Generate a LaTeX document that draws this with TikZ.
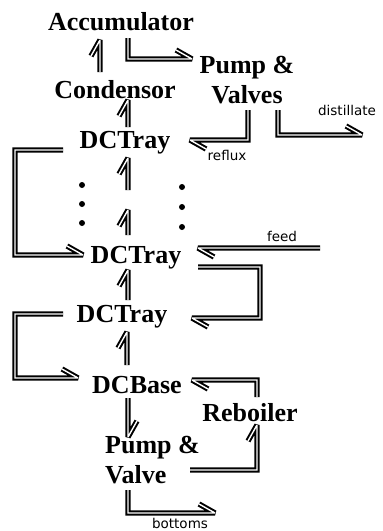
\documentclass[tikz,border=0pt]{standalone}
\usepackage{fontspec}
\setmainfont{Liberation Serif}
\newfontfamily\lblfont{DejaVu Sans}
\tikzset{
  blk/.style={font=\fontsize{26}{30}\selectfont\bfseries, inner sep=0pt},
  lbl/.style={font=\lblfont\fontsize{13.5}{15}\selectfont, inner sep=0pt},
  flow/.style={double, double distance=1.4pt, line width=2pt, line join=miter, miter limit=3},
  dot/.style={circle, fill=black, inner sep=0pt, minimum size=6pt}
}
\newcommand\tipU{-- ++(-9,16)}
\newcommand\tipD{-- ++(9,-16)}
\newcommand\tipR{-- ++(-16,-9)}
\newcommand\tipL{-- ++(16,9)}
\begin{document}
\begin{tikzpicture}[x=1pt, y=-1pt]
\useasboundingbox (0,0) rectangle (383,531);
% nodes
\node[blk] (acc) at (121,22) {Accumulator};
\node[blk] (cond) at (115,90) {Condensor};
\node[blk, align=center] (pv1) at (247,80) {Pump \&\\Valves};
\node[blk] (t1) at (125,143) {DCTray};
\node[blk] (t2) at (136,258) {DCTray};
\node[blk] (t3) at (122,317) {DCTray};
\node[blk] (base) at (137,385) {DCBase};
\node[blk] (reb) at (250,413) {Reboiler};
\node[blk, align=left, anchor=west] (pv2) at (105,460) {Pump \&\\Valve};
\node[lbl] (dist) at (347,110) {distillate};
\node[lbl] (refl) at (227,155) {reflux};
\node[lbl] (feed) at (282,236) {feed};
\node[lbl] (bot) at (180,523) {bottoms};
% dots
\foreach \y [count=\i] in {185,204,223} \node[dot] (dl\i) at (82,\y) {};
\foreach \y [count=\i] in {187,207,227} \node[dot] (dr\i) at (182,\y) {};
% connector end points
\coordinate (c1a) at (100,72);   \coordinate (c1b) at (100,40);
\coordinate (c2a) at (128,38);   \coordinate (c2b) at (192,59);
\coordinate (c3a) at (128,127);  \coordinate (c3b) at (128,100);
\coordinate (c4a) at (248,110);  \coordinate (c4b) at (190,140);
\coordinate (c5a) at (278,110);  \coordinate (c5b) at (362,135);
\coordinate (c6a) at (63,150);   \coordinate (c6b) at (83,255);
\coordinate (c7a) at (128,190);  \coordinate (c7b) at (128,158);
\coordinate (c8a) at (128,235);  \coordinate (c8b) at (128,210);
\coordinate (c9a) at (320,248);  \coordinate (c9b) at (198,248);
\coordinate (c10a) at (198,267); \coordinate (c10b) at (192,318);
\coordinate (c11a) at (128,300); \coordinate (c11b) at (128,270);
\coordinate (c12a) at (63,314);  \coordinate (c12b) at (78,378);
\coordinate (c13a) at (127,365); \coordinate (c13b) at (127,332);
\coordinate (c14a) at (128,398); \coordinate (c14b) at (128,437);
\coordinate (c15a) at (257,397); \coordinate (c15b) at (192,380);
\coordinate (c16a) at (190,470); \coordinate (c16b) at (257,425);
\coordinate (c17a) at (128,490); \coordinate (c17b) at (215,513);
% connectors
\draw[flow] (c1a) -- (c1b) \tipU;
\draw[flow] (c2a) |- (c2b) \tipR;
\draw[flow] (c3a) -- (c3b) \tipU;
\draw[flow] (c4a) |- (c4b) \tipL;
\draw[flow] (c5a) |- (c5b) \tipR;
\draw[flow] (c6a) -- (15,150) |- (c6b) \tipR;
\draw[flow] (c7a) -- (c7b) \tipU;
\draw[flow] (c8a) -- (c8b) \tipU;
\draw[flow] (c9a) -- (c9b) \tipL;
\draw[flow] (c10a) -- (260,267) |- (c10b) \tipL;
\draw[flow] (c11a) -- (c11b) \tipU;
\draw[flow] (c12a) -- (15,314) |- (c12b) \tipR;
\draw[flow] (c13a) -- (c13b) \tipU;
\draw[flow] (c14a) -- (c14b) \tipD;
\draw[flow] (c15a) |- (c15b) \tipL;
\draw[flow] (c16a) -| (c16b) \tipU;
\draw[flow] (c17a) |- (c17b) \tipR;
\end{tikzpicture}
\end{document}
